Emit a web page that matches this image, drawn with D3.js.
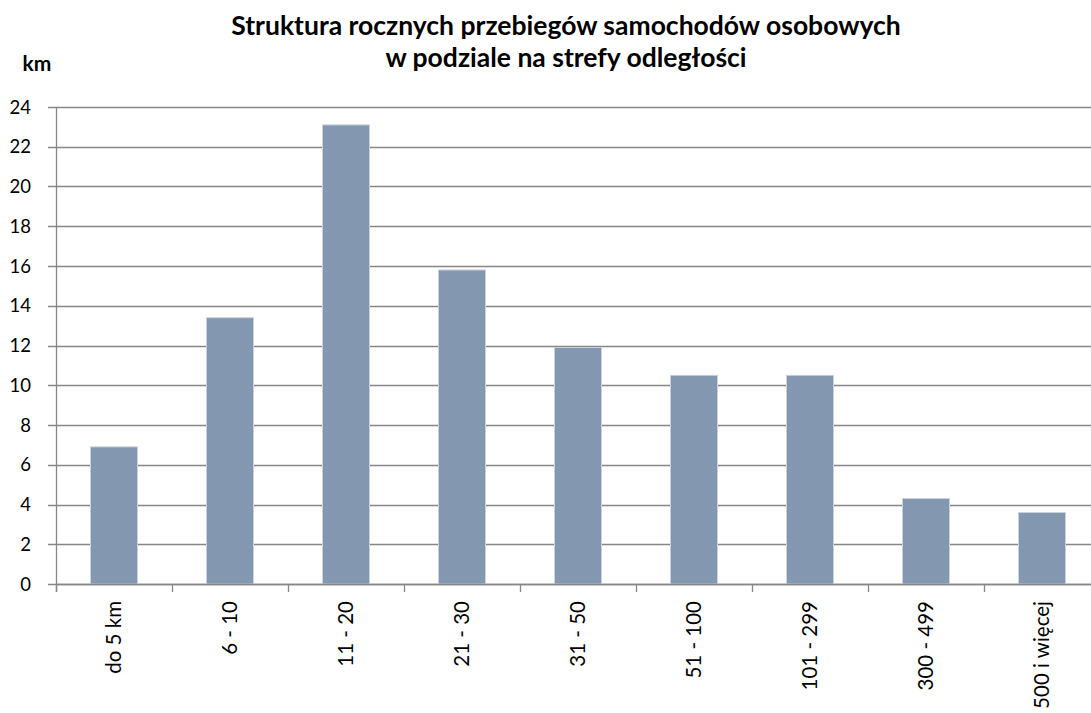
<!DOCTYPE html>
<html>
<head>
<meta charset="utf-8">
<script src="https://cdn.jsdelivr.net/npm/d3@7"></script>
<style>
  body { margin: 0; background: #fff; }
  text { font-family: Lato, "Open Sans", sans-serif; fill: #000; }
</style>
</head>
<body>
<div class="chart"></div>
<script>
// data
const categories = ["do 5 km", "6 - 10", "11 - 20", "21 - 30", "31 - 50", "51 - 100", "101 - 299", "300 - 499", "500 i więcej"];
const values = [6.9, 13.4, 23.1, 15.8, 11.9, 10.5, 10.5, 4.3, 3.6];
const yTicks = [0, 2, 4, 6, 8, 10, 12, 14, 16, 18, 20, 22, 24];
const titleLines = ["Struktura rocznych przebiegów samochodów osobowych", "w podziale na strefy odległości"];
const unitLabel = "km";

const width = 1091, height = 713;
const margin = {top: 107, right: -9, bottom: 129, left: 56};
const innerW = width - margin.left - margin.right;
const innerH = height - margin.top - margin.bottom;

const svg = d3.select(".chart").append("svg")
    .attr("width", width)
    .attr("height", height);

const g = svg.append("g")
    .attr("transform", `translate(${margin.left},${margin.top})`);

const x = d3.scaleBand()
    .domain(categories)
    .range([0, innerW])
    .paddingInner(0.595)
    .paddingOuter(0.2975);

const y = d3.scaleLinear()
    .domain([0, 24])
    .range([innerH, 0]);

// horizontal grid lines with tick stubs on the left
g.selectAll(".grid")
    .data(yTicks)
    .enter()
    .append("line")
    .attr("x1", -8)
    .attr("x2", innerW)
    .attr("y1", d => Math.round(y(d)) + 0.5)
    .attr("y2", d => Math.round(y(d)) + 0.5)
    .style("stroke", "#878787")
    .style("stroke-width", 1.3);

// y tick labels
g.selectAll(".ylab")
    .data(yTicks)
    .enter()
    .append("text")
    .attr("x", -25)
    .attr("y", d => y(d))
    .attr("dy", "0.36em")
    .attr("text-anchor", "end")
    .style("font-size", "18.5px")
    .text(d => d);

// bars
g.selectAll(".bar")
    .data(values)
    .enter()
    .append("rect")
    .attr("x", (d, i) => x(categories[i]))
    .attr("y", d => y(d))
    .attr("width", x.bandwidth())
    .attr("height", d => innerH - y(d))
    .style("fill", "#8497b0")
    .style("stroke", "#c9d2de")
    .style("stroke-width", 1);

// y axis line
g.append("line")
    .attr("x1", 0.5).attr("x2", 0.5)
    .attr("y1", 0).attr("y2", innerH + 8)
    .style("stroke", "#878787")
    .style("stroke-width", 1.3);

// x axis line and category ticks (at band boundaries)
g.append("line")
    .attr("x1", 0).attr("x2", innerW)
    .attr("y1", innerH + 0.5).attr("y2", innerH + 0.5)
    .style("stroke", "#878787")
    .style("stroke-width", 1.3);

const step = x.step();
g.selectAll(".xtick")
    .data(categories)
    .enter()
    .append("line")
    .attr("x1", d => Math.round(x(d) + x.bandwidth() / 2 - step / 2) + 0.5)
    .attr("x2", d => Math.round(x(d) + x.bandwidth() / 2 - step / 2) + 0.5)
    .attr("y1", innerH)
    .attr("y2", innerH + 8)
    .style("stroke", "#878787")
    .style("stroke-width", 1.3);

// category labels, rotated
g.selectAll(".xlab")
    .data(categories)
    .enter()
    .append("text")
    .attr("transform", d => `translate(${x(d) + x.bandwidth() / 2},${innerH + 17}) rotate(-90)`)
    .attr("dy", "0.36em")
    .attr("text-anchor", "end")
    .style("font-size", "20.5px")
    .text(d => d);

// title
svg.selectAll(".title")
    .data(titleLines)
    .enter()
    .append("text")
    .attr("x", 566)
    .attr("y", (d, i) => 35 + i * 32)
    .attr("text-anchor", "middle")
    .style("font-size", "26.5px")
    .style("font-weight", "bold")
    .text(d => d);

svg.append("text")
    .attr("x", 37)
    .attr("y", 71)
    .attr("text-anchor", "middle")
    .style("font-size", "21px")
    .style("font-weight", "bold")
    .text(unitLabel);
</script>
</body>
</html>
